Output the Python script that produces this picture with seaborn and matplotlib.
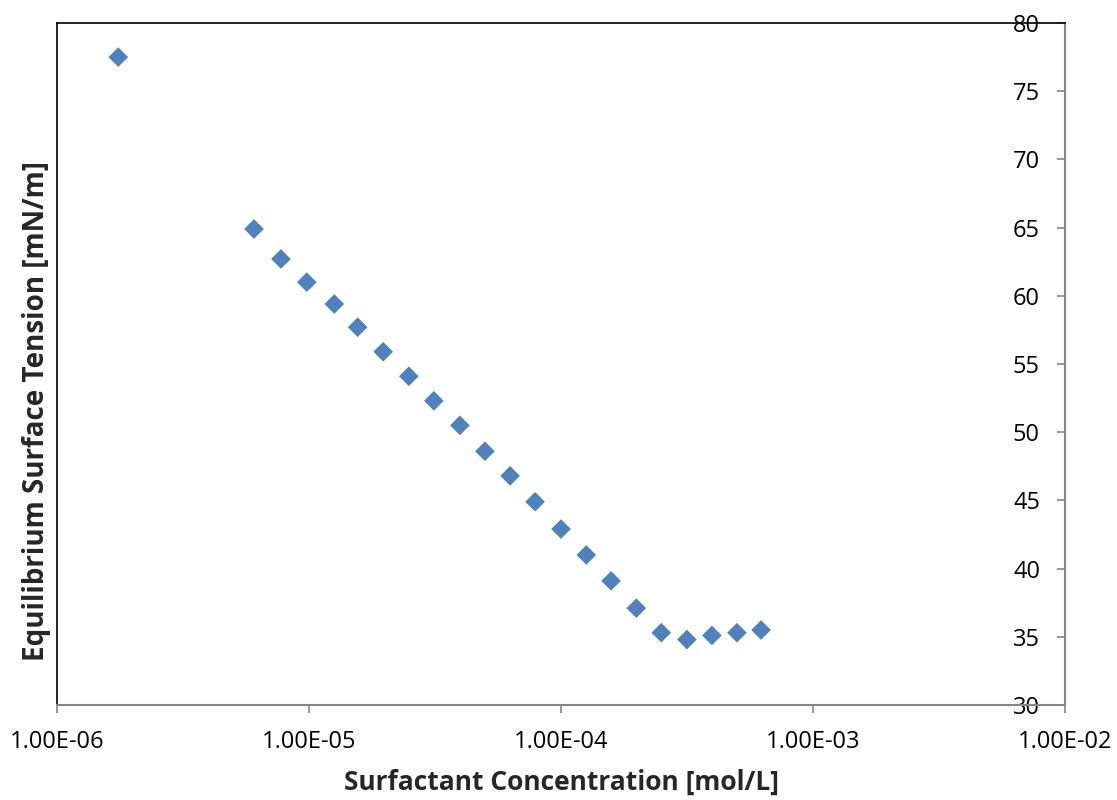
import numpy as np
import pandas as pd
import seaborn as sns
import matplotlib.pyplot as plt
from matplotlib.ticker import FixedLocator, FuncFormatter, NullLocator

# Data
concentration = [1.75e-6, 6.05e-6, 7.74e-6, 9.8e-6, 1.26e-5, 1.56e-5, 1.97e-5,
                 2.49e-5, 3.13e-5, 3.97e-5, 4.99e-5, 6.28e-5, 7.89e-5, 1.0e-4,
                 1.26e-4, 1.58e-4, 1.99e-4, 2.5e-4, 3.16e-4, 3.97e-4, 4.99e-4, 6.22e-4]
surface_tension = [77.5, 64.9, 62.7, 61.0, 59.4, 57.7, 55.9,
                   54.1, 52.3, 50.5, 48.6, 46.8, 44.9, 42.9,
                   41.0, 39.1, 37.1, 35.3, 34.8, 35.1, 35.3, 35.5]
x_ticks = [1e-6, 1e-5, 1e-4, 1e-3, 1e-2]
y_ticks = [30, 35, 40, 45, 50, 55, 60, 65, 70, 75, 80]

df = pd.DataFrame({"conc": concentration, "tension": surface_tension})

sns.set_style("white")
plt.rcParams["font.family"] = ["Open Sans", "DejaVu Sans"]

fig = plt.figure(figsize=(11.17, 8), dpi=100)
ax = fig.add_axes([57 / 1117, 1 - 705 / 800, (1065 - 57) / 1117, (705 - 23) / 800])

sns.scatterplot(data=df, x="conc", y="tension", marker="D", s=100,
                color="#4F81BD", edgecolor="none", ax=ax)

ax.set_xscale("log")
ax.set_xlim(1e-6, 1e-2)
ax.set_ylim(30, 80)
ax.xaxis.set_major_locator(FixedLocator(x_ticks))
ax.xaxis.set_minor_locator(NullLocator())
ax.xaxis.set_major_formatter(FuncFormatter(lambda v, p: f"{v:.2E}"))
ax.set_yticks(y_ticks)

# spines
for side in ["left", "top"]:
    ax.spines[side].set_color("black")
    ax.spines[side].set_linewidth(1.2)
for side in ["bottom", "right"]:
    ax.spines[side].set_color("#868686")
    ax.spines[side].set_linewidth(1.5)

ax.tick_params(axis="x", which="major", bottom=True, direction="out", length=6,
               width=1.2, color="#868686", labelsize=17, pad=12, labelcolor="black")
ax.tick_params(axis="y", which="major", left=False, right=True, labelleft=False,
               labelright=True, direction="in", length=6, width=1.2,
               color="#868686", labelsize=17, pad=-18, labelcolor="black")
for lab in ax.get_yticklabels():
    lab.set_horizontalalignment("right")

ax.set_xlabel("Surfactant Concentration [mol/L]", fontsize=19, fontweight="bold")
ax.set_ylabel("Equilibrium Surface Tension [mN/m]", fontsize=20, fontweight="bold")
ax.xaxis.set_label_coords(0.5, -64 / 682, transform=ax.transAxes)
ax.yaxis.set_label_coords(-6 / 1008, (705 - 411) / 682, transform=ax.transAxes)

plt.savefig("out.png", dpi=100)
